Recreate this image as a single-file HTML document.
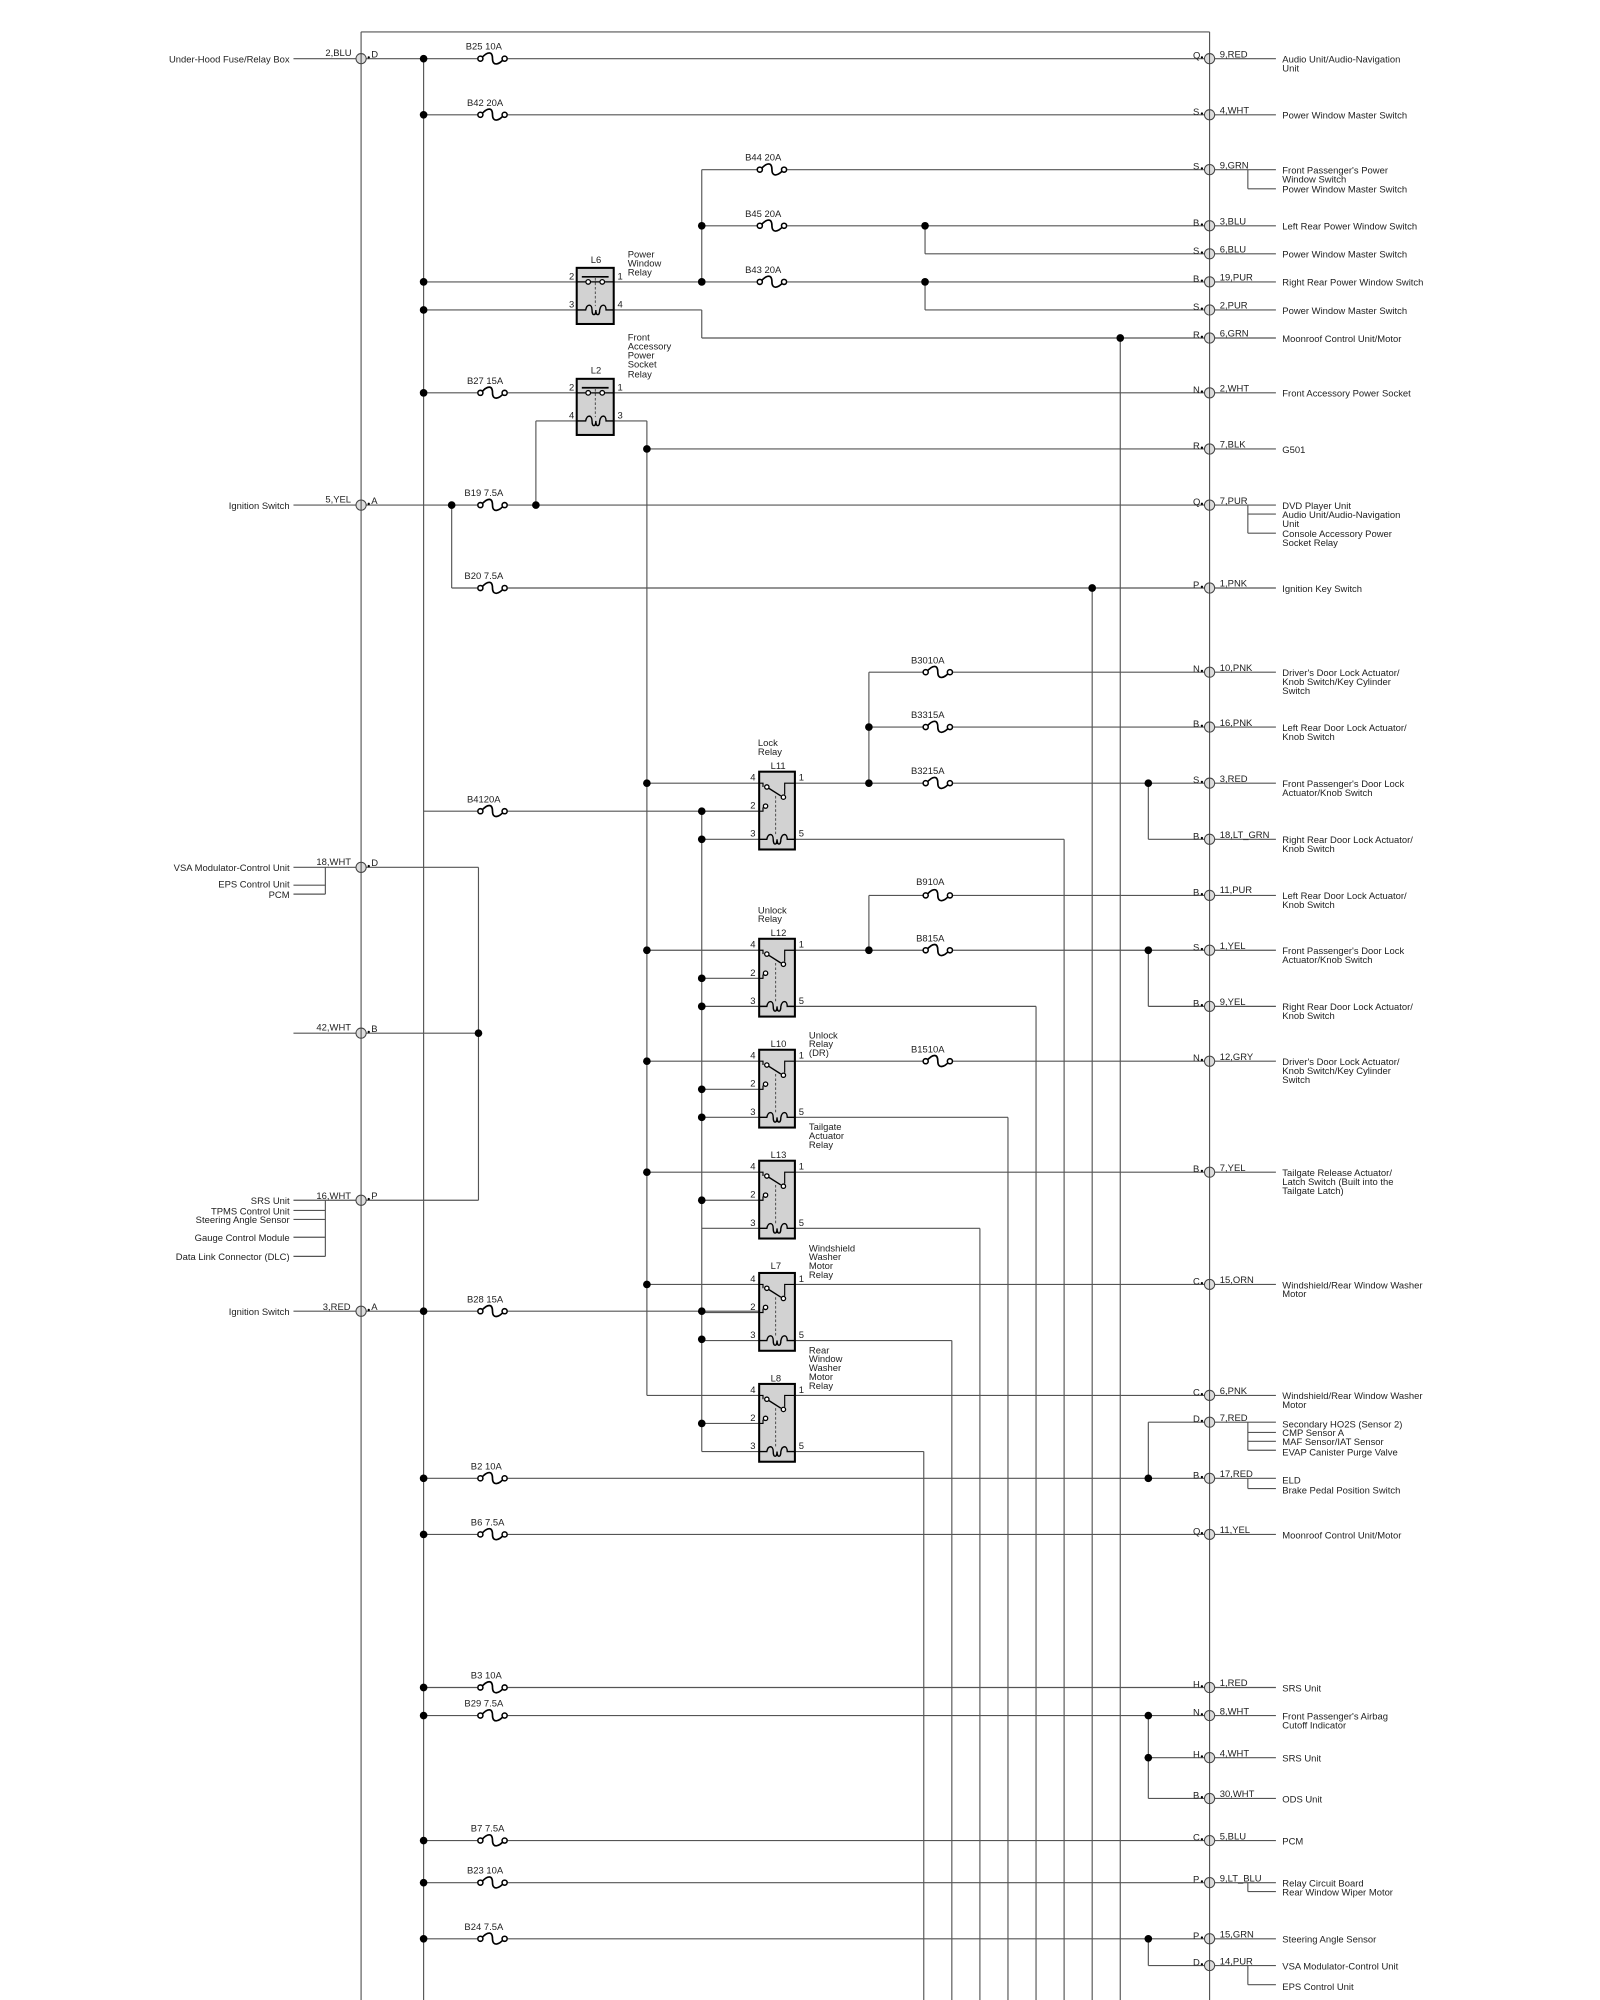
<!DOCTYPE html>
<html><head><meta charset="utf-8"><style>
html,body{margin:0;padding:0;background:#fff;}
svg{display:block}
text{font-family:"Liberation Sans",sans-serif;font-size:7.4px;fill:#222;}
.r{text-anchor:end}
</style></head><body>
<svg id="s" width="1600" height="2000" viewBox="0 0 1254 1568" preserveAspectRatio="none" xmlns="http://www.w3.org/2000/svg">
<g id="g" stroke="#555" stroke-width="0.9" fill="none"></g>
<g id="t">
<text x="227" y="49" class="r">Under-Hood Fuse/Relay Box</text><text x="255" y="44">2,BLU</text><text x="291" y="45">D</text>
<text x="227" y="399" class="r">Ignition Switch</text><text x="255" y="394">5,YEL</text><text x="291" y="395">A</text>
<text x="227" y="683" class="r">VSA Modulator-Control Unit</text><text x="227" y="696" class="r">EPS Control Unit</text><text x="227" y="704" class="r">PCM</text><text x="248" y="678">18,WHT</text><text x="291" y="679">D</text>
<text x="248" y="808">42,WHT</text><text x="291" y="809">B</text>
<text x="227" y="944" class="r">SRS Unit</text><text x="227" y="952" class="r">TPMS Control Unit</text><text x="227" y="959" class="r">Steering Angle Sensor</text><text x="227" y="973" class="r">Gauge Control Module</text><text x="227" y="988" class="r">Data Link Connector (DLC)</text><text x="248" y="940">16,WHT</text><text x="291" y="940">P</text>
<text x="227" y="1031" class="r">Ignition Switch</text><text x="253" y="1027">3,RED</text><text x="291" y="1027">A</text>
<text x="365" y="39">B25 10A</text><text x="366" y="83">B42 20A</text><text x="366" y="301">B27 15A</text><text x="364" y="389">B19 7.5A</text><text x="364" y="454">B20 7.5A</text><text x="366" y="629">B4120A</text><text x="366" y="1021">B28 15A</text><text x="369" y="1152">B2 10A</text><text x="369" y="1196">B6 7.5A</text><text x="369" y="1316">B3 10A</text><text x="364" y="1338">B29 7.5A</text><text x="369" y="1436">B7 7.5A</text><text x="366" y="1469">B23 10A</text><text x="364" y="1513">B24 7.5A</text>
<text x="584" y="126">B44 20A</text><text x="584" y="170">B45 20A</text><text x="584" y="214">B43 20A</text>
<text x="714" y="520">B3010A</text><text x="714" y="563">B3315A</text><text x="714" y="607">B3215A</text><text x="718" y="694">B910A</text><text x="718" y="738">B815A</text><text x="714" y="825">B1510A</text>
<text x="463" y="206">L6</text><text x="492" y="202">Power</text><text x="492" y="209">Window</text><text x="492" y="216">Relay</text>
<text x="463" y="293">L2</text><text x="492" y="267">Front</text><text x="492" y="274">Accessory</text><text x="492" y="281">Power</text><text x="492" y="288">Socket</text><text x="492" y="296">Relay</text>
<text x="594" y="585">Lock</text><text x="594" y="592">Relay</text><text x="604" y="603">L11</text>
<text x="594" y="716">Unlock</text><text x="594" y="723">Relay</text><text x="604" y="734">L12</text>
<text x="604" y="821">L10</text><text x="634" y="814">Unlock</text><text x="634" y="821">Relay</text><text x="634" y="828">(DR)</text>
<text x="604" y="908">L13</text><text x="634" y="886">Tailgate</text><text x="634" y="893">Actuator</text><text x="634" y="900">Relay</text>
<text x="604" y="995">L7</text><text x="634" y="981">Windshield</text><text x="634" y="988">Washer</text><text x="634" y="995">Motor</text><text x="634" y="1002">Relay</text>
<text x="604" y="1083">L8</text><text x="634" y="1061">Rear</text><text x="634" y="1068">Window</text><text x="634" y="1075">Washer</text><text x="634" y="1082">Motor</text><text x="634" y="1089">Relay</text>
</g>
<g id="pins">
<text x="446" y="219">2</text><text x="484" y="219">1</text><text x="446" y="241">3</text><text x="484" y="241">4</text>
<text x="446" y="306">2</text><text x="484" y="306">1</text><text x="446" y="328">4</text><text x="484" y="328">3</text>
<text x="588" y="612">4</text><text x="626" y="612">1</text><text x="588" y="634">2</text><text x="588" y="656">3</text><text x="626" y="656">5</text>
<text x="588" y="743">4</text><text x="626" y="743">1</text><text x="588" y="765">2</text><text x="588" y="787">3</text><text x="626" y="787">5</text>
<text x="588" y="830">4</text><text x="626" y="830">1</text><text x="588" y="852">2</text><text x="588" y="874">3</text><text x="626" y="874">5</text>
<text x="588" y="917">4</text><text x="626" y="917">1</text><text x="588" y="939">2</text><text x="588" y="961">3</text><text x="626" y="961">5</text>
<text x="588" y="1005">4</text><text x="626" y="1005">1</text><text x="588" y="1027">2</text><text x="588" y="1049">3</text><text x="626" y="1049">5</text>
<text x="588" y="1092">4</text><text x="626" y="1092">1</text><text x="588" y="1114">2</text><text x="588" y="1136">3</text><text x="626" y="1136">5</text>
</g>
<g id="rt">
<text x="1005" y="49">Audio Unit/Audio-Navigation</text><text x="1005" y="56">Unit</text>
<text x="1005" y="93">Power Window Master Switch</text>
<text x="1005" y="136">Front Passenger's Power</text><text x="1005" y="143">Window Switch</text><text x="1005" y="151">Power Window Master Switch</text>
<text x="1005" y="180">Left Rear Power Window Switch</text>
<text x="1005" y="202">Power Window Master Switch</text>
<text x="1005" y="224">Right Rear Power Window Switch</text>
<text x="1005" y="246">Power Window Master Switch</text>
<text x="1005" y="268">Moonroof Control Unit/Motor</text>
<text x="1005" y="311">Front Accessory Power Socket</text>
<text x="1005" y="355">G501</text>
<text x="1005" y="399">DVD Player Unit</text><text x="1005" y="406">Audio Unit/Audio-Navigation</text><text x="1005" y="413">Unit</text><text x="1005" y="421">Console Accessory Power</text><text x="1005" y="428">Socket Relay</text>
<text x="1005" y="464">Ignition Key Switch</text>
<text x="1005" y="530">Driver's Door Lock Actuator/</text><text x="1005" y="537">Knob Switch/Key Cylinder</text><text x="1005" y="544">Switch</text>
<text x="1005" y="573">Left Rear Door Lock Actuator/</text><text x="1005" y="580">Knob Switch</text>
<text x="1005" y="617">Front Passenger's Door Lock</text><text x="1005" y="624">Actuator/Knob Switch</text>
<text x="1005" y="661">Right Rear Door Lock Actuator/</text><text x="1005" y="668">Knob Switch</text>
<text x="1005" y="705">Left Rear Door Lock Actuator/</text><text x="1005" y="712">Knob Switch</text>
<text x="1005" y="748">Front Passenger's Door Lock</text><text x="1005" y="755">Actuator/Knob Switch</text>
<text x="1005" y="792">Right Rear Door Lock Actuator/</text><text x="1005" y="799">Knob Switch</text>
<text x="1005" y="835">Driver's Door Lock Actuator/</text><text x="1005" y="842">Knob Switch/Key Cylinder</text><text x="1005" y="849">Switch</text>
<text x="1005" y="922">Tailgate Release Actuator/</text><text x="1005" y="929">Latch Switch (Built into the</text><text x="1005" y="936">Tailgate Latch)</text>
<text x="1005" y="1010">Windshield/Rear Window Washer</text><text x="1005" y="1017">Motor</text>
<text x="1005" y="1097">Windshield/Rear Window Washer</text><text x="1005" y="1104">Motor</text>
<text x="1005" y="1119">Secondary HO2S (Sensor 2)</text><text x="1005" y="1126">CMP Sensor A</text><text x="1005" y="1133">MAF Sensor/IAT Sensor</text><text x="1005" y="1141">EVAP Canister Purge Valve</text>
<text x="1005" y="1163">ELD</text><text x="1005" y="1171">Brake Pedal Position Switch</text>
<text x="1005" y="1206">Moonroof Control Unit/Motor</text>
<text x="1005" y="1326">SRS Unit</text>
<text x="1005" y="1348">Front Passenger's Airbag</text><text x="1005" y="1355">Cutoff Indicator</text>
<text x="1005" y="1381">SRS Unit</text>
<text x="1005" y="1413">ODS Unit</text>
<text x="1005" y="1446">PCM</text>
<text x="1005" y="1479">Relay Circuit Board</text><text x="1005" y="1486">Rear Window Wiper Motor</text>
<text x="1005" y="1523">Steering Angle Sensor</text>
<text x="1005" y="1544">VSA Modulator-Control Unit</text><text x="1005" y="1560">EPS Control Unit</text>
<text x="935" y="46">Q</text><text x="956" y="45">9,RED</text>
<text x="935" y="90">S</text><text x="956" y="89">4,WHT</text>
<text x="935" y="133">S</text><text x="956" y="132">9,GRN</text>
<text x="935" y="177">B</text><text x="956" y="176">3,BLU</text>
<text x="935" y="199">S</text><text x="956" y="198">6,BLU</text>
<text x="935" y="221">B</text><text x="956" y="220">19,PUR</text>
<text x="935" y="243">S</text><text x="956" y="242">2,PUR</text>
<text x="935" y="265">R</text><text x="956" y="264">6,GRN</text>
<text x="935" y="308">N</text><text x="956" y="307">2,WHT</text>
<text x="935" y="352">R</text><text x="956" y="351">7,BLK</text>
<text x="935" y="396">Q</text><text x="956" y="395">7,PUR</text>
<text x="935" y="461">P</text><text x="956" y="460">1,PNK</text>
<text x="935" y="527">N</text><text x="956" y="526">10,PNK</text>
<text x="935" y="570">B</text><text x="956" y="569">16,PNK</text>
<text x="935" y="614">S</text><text x="956" y="613">3,RED</text>
<text x="935" y="658">B</text><text x="956" y="657">18,LT_GRN</text>
<text x="935" y="702">B</text><text x="956" y="700">11,PUR</text>
<text x="935" y="745">S</text><text x="956" y="744">1,YEL</text>
<text x="935" y="789">B</text><text x="956" y="788">9,YEL</text>
<text x="935" y="832">N</text><text x="956" y="831">12,GRY</text>
<text x="935" y="919">B</text><text x="956" y="918">7,YEL</text>
<text x="935" y="1007">C</text><text x="956" y="1006">15,ORN</text>
<text x="935" y="1094">C</text><text x="956" y="1093">6,PNK</text>
<text x="935" y="1115">D</text><text x="956" y="1114">7,RED</text>
<text x="935" y="1159">B</text><text x="956" y="1158">17,RED</text>
<text x="935" y="1203">Q</text><text x="956" y="1202">11,YEL</text>
<text x="935" y="1323">H</text><text x="956" y="1322">1,RED</text>
<text x="935" y="1345">N</text><text x="956" y="1344">8,WHT</text>
<text x="935" y="1378">H</text><text x="956" y="1377">4,WHT</text>
<text x="935" y="1410">B</text><text x="956" y="1409">30,WHT</text>
<text x="935" y="1443">C</text><text x="956" y="1442">5,BLU</text>
<text x="935" y="1476">P</text><text x="956" y="1475">9,LT_BLU</text>
<text x="935" y="1520">P</text><text x="956" y="1519">15,GRN</text>
<text x="935" y="1541">D</text><text x="956" y="1540">14,PUR</text>
</g>
<g id="rel"></g>
</svg>
<script>
var NS="http://www.w3.org/2000/svg",g=document.getElementById('g'),rel=document.getElementById('rel');
function el(p,t,a){var e=document.createElementNS(NS,t);for(var k in a)e.setAttribute(k,a[k]);p.appendChild(e);return e;}
var L=[[283,25,948,25],[283,25,283,1568],[948,25,948,1568],[332,46,332,1568],
[287,46,944,46],[332,90,944,90],[550,133,944,133],[550,133,550,221],[550,177,944,177],[725,177,725,199],[725,199,944,199],
[332,221,452,221],[481,221,944,221],[725,221,725,243],[725,243,944,243],
[332,243,452,243],[481,243,550,243],[550,243,550,265],[550,265,944,265],[878,265,878,1568],
[332,308,452,308],[481,308,944,308],[420,330,452,330],[420,330,420,396],[481,330,507,330],[507,330,507,1094],[507,352,944,352],
[287,396,944,396],[354,396,354,461],[354,461,944,461],[856,461,856,1568],
[681,527,944,527],[681,527,681,614],[681,570,944,570],[900,614,900,658],[900,658,944,658],
[332,636,595,636],[550,636,550,1138],
[681,702,681,745],[681,702,944,702],[900,745,900,789],[900,789,944,789],
[287,1028,595,1028],
[287,680,375,680],[375,680,375,941],[287,941,375,941],[287,810,375,810],
[230,46,279,46],[230,396,279,396],[230,680,279,680],[255,680,255,701],[230,694,255,694],[230,701,255,701],[230,810,279,810],[230,941,279,941],[255,941,255,985],[230,949,255,949],[230,956,255,956],[230,970,255,970],[230,985,255,985],[230,1028,279,1028],
[900,1115,944,1115],[900,1115,900,1159],[332,1159,944,1159],[332,1203,944,1203],[332,1323,944,1323],[332,1345,944,1345],[900,1345,900,1410],[900,1378,944,1378],[900,1410,944,1410],
[332,1443,944,1443],[332,1476,944,1476],[332,1520,944,1520],[900,1520,900,1541],[900,1541,944,1541],
[978,133,978,148],[978,148,1000,148],[978,396,978,418],[978,403,1000,403],[978,418,1000,418],
[978,1115,978,1137],[978,1123,1000,1123],[978,1130,1000,1130],[978,1137,1000,1137],[978,1159,978,1167],[978,1167,1000,1167],[978,1476,978,1483],[978,1483,1000,1483],[978,1541,978,1556],[978,1556,1000,1556]];
var R=[46,90,133,177,199,221,243,265,308,352,396,461,527,570,614,658,702,745,789,832,919,1007,1094,1115,1159,1203,1323,1345,1378,1410,1443,1476,1520,1541];
R.forEach(function(y){L.push([952,y,1000,y]);});
var RL=[[614,834],[745,812],[832,790],[919,768],[1007,746],[1094,724]];
RL.forEach(function(r){var y=r[0];L.push([623,y,944,y]);L.push([507,y,595,y]);L.push([550,y+22,595,y+22]);L.push([550,y+44,595,y+44]);L.push([623,y+44,r[1],y+44]);L.push([r[1],y+44,r[1],1568]);});
L.forEach(function(l){el(g,'line',{x1:l[0],y1:l[1],x2:l[2],y2:l[3]});});
var D=[[332,46],[332,90],[550,177],[550,221],[725,177],[725,221],[332,221],[332,243],[878,265],[332,308],[507,352],[354,396],[420,396],[856,461],[681,570],[681,614],[507,614],[900,614],[550,636],[550,658],[507,745],[681,745],[900,745],[550,767],[550,789],[507,832],[550,854],[550,876],[507,919],[550,941],[507,1007],[332,1028],[550,1028],[550,1050],[550,1116],[332,1159],[900,1159],[332,1203],[332,1323],[332,1345],[900,1345],[900,1378],[332,1443],[332,1476],[332,1520],[900,1520],[375,810]];
D.forEach(function(d){el(rel,'circle',{cx:d[0],cy:d[1],r:3,fill:'#000'});});
function fuse(x,y){el(rel,'rect',{x:x-1,y:y-3,width:24,height:6,fill:'#fff'});el(rel,'path',{d:'M'+(x+2)+' '+y+' C'+(x+7)+' '+(y-6)+' '+(x+11)+' '+(y-6)+' '+(x+11)+' '+y+' S'+(x+16)+' '+(y+5)+' '+(x+20)+' '+y,stroke:'#000','stroke-width':1.3,fill:'none'});
el(rel,'circle',{cx:x+1.5,cy:y,r:2,fill:'#fff',stroke:'#000','stroke-width':1.2});el(rel,'circle',{cx:x+20.5,cy:y,r:2,fill:'#fff',stroke:'#000','stroke-width':1.2});}
[46,90,308,396,461,636,1028,1159,1203,1323,1345,1443,1476,1520].forEach(function(y){fuse(375,y);});
[133,177,221].forEach(function(y){fuse(594,y);});[527,570,614,702,745,832].forEach(function(y){fuse(724,y);});
function con(x,y,right){el(rel,'circle',{cx:x,cy:y,r:4,fill:'#ddd',stroke:'#444','stroke-width':0.8});el(rel,'line',{x1:x,y1:y-4,x2:x,y2:y+4,stroke:'#444','stroke-width':0.8});
el(rel,'circle',{cx:right?x-6:x+6,cy:y-1,r:0.9,fill:'#000'});}
R.forEach(function(y){con(948,y,true);});[46,396,680,810,941,1028].forEach(function(y){con(283,y,false);});
function relayA(y1,y2){var x=452,w=29;el(rel,'rect',{x:x,y:y1-11,width:w,height:y2-y1+22,fill:'#d2d2d2',stroke:'#000','stroke-width':1.6});
el(rel,'line',{x1:x,y1:y1,x2:x+w,y2:y1,stroke:'#000','stroke-width':1});el(rel,'line',{x1:x+4,y1:y1-4,x2:x+w-4,y2:y1-4,stroke:'#000','stroke-width':1.3});
el(rel,'circle',{cx:x+9,cy:y1,r:1.8,fill:'#fff',stroke:'#000'});el(rel,'circle',{cx:x+20,cy:y1,r:1.8,fill:'#fff',stroke:'#000'});
el(rel,'line',{x1:x+14.5,y1:y1-3,x2:x+14.5,y2:y2-3,stroke:'#000','stroke-width':0.5,'stroke-dasharray':'2,1.5'});
el(rel,'path',{d:'M'+x+' '+y2+' H'+(x+7)+' c1,-5 5,-5 5,0 c0,5 3,5 3,0 c0,5 3,5 3,0 c1,-5 5,-5 5,0 H'+(x+w),stroke:'#000','stroke-width':1.1,fill:'none'});}
relayA(221,243);relayA(308,330);
function relayB(y){var x=595,w=28;el(rel,'rect',{x:x,y:y-9,width:w,height:61,fill:'#d2d2d2',stroke:'#000','stroke-width':1.6});
el(rel,'path',{d:'M'+x+' '+y+' H'+(x+3)+' V'+(y+3)+' M'+(x+w)+' '+y+' H'+(x+20)+' V'+(y+9)+' M'+x+' '+(y+22)+' H'+(x+3)+' V'+(y+19),stroke:'#000','stroke-width':0.9,fill:'none'});
el(rel,'line',{x1:x+6,y1:y+3,x2:x+17,y2:y+10,stroke:'#000','stroke-width':1.1});
el(rel,'circle',{cx:x+6,cy:y+3,r:1.7,fill:'#fff',stroke:'#000'});el(rel,'circle',{cx:x+19,cy:y+11,r:1.7,fill:'#fff',stroke:'#000'});el(rel,'circle',{cx:x+5,cy:y+18,r:1.7,fill:'#fff',stroke:'#000'});
el(rel,'line',{x1:x+13,y1:y+10,x2:x+13,y2:y+40,stroke:'#000','stroke-width':0.5,'stroke-dasharray':'2,1.5'});
var yc=y+44;el(rel,'path',{d:'M'+x+' '+yc+' H'+(x+6)+' c1,-5 5,-5 5,0 c0,5 3,5 3,0 c0,5 3,5 3,0 c1,-5 5,-5 5,0 H'+(x+w),stroke:'#000','stroke-width':1.1,fill:'none'});}
RL.forEach(function(r){relayB(r[0]);});
</script>
</body></html>
